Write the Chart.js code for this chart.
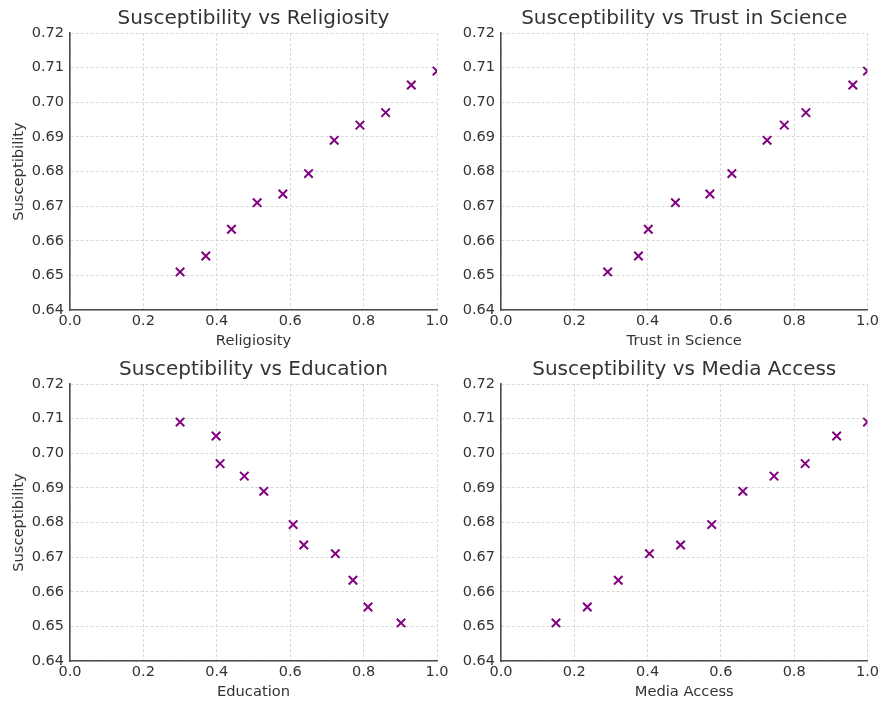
<!DOCTYPE html>
<html>
<head>
<meta charset="utf-8">
<script src="https://cdn.jsdelivr.net/npm/chart.js@4.4.0/dist/chart.umd.min.js"></script>
<style>
  html, body { margin: 0; padding: 0; background: #fff; }
  body { width: 882px; height: 702px; position: relative; overflow: hidden; }
  .box { position: absolute; }
</style>
</head>
<body>
<div class="box" style="left:0;top:0;width:462px;height:351px"><canvas id="c1"></canvas></div>
<div class="box" style="left:441px;top:0;width:441px;height:351px"><canvas id="c2"></canvas></div>
<div class="box" style="left:0;top:351px;width:462px;height:351px"><canvas id="c3"></canvas></div>
<div class="box" style="left:441px;top:351px;width:441px;height:351px"><canvas id="c4"></canvas></div>
<script>
// Valeurs
const susceptibility = [0.651, 0.6556, 0.6633, 0.671, 0.6735, 0.6794, 0.689, 0.6934, 0.697, 0.705, 0.709];
const religiosity = [0.30, 0.37, 0.44, 0.51, 0.58, 0.65, 0.72, 0.79, 0.86, 0.93, 1.0];
const trustInScience = [0.291, 0.375, 0.402, 0.476, 0.570, 0.630, 0.726, 0.773, 0.832, 0.960, 1.0];
const education = [0.902, 0.812, 0.771, 0.723, 0.637, 0.608, 0.528, 0.475, 0.409, 0.398, 0.300];
const mediaAccess = [0.150, 0.2355, 0.320, 0.405, 0.490, 0.575, 0.660, 0.745, 0.830, 0.916, 1.0];

const xTicks = [0, 0.2, 0.4, 0.6, 0.8, 1.0];
const yTicks = [0.64, 0.65, 0.66, 0.67, 0.68, 0.69, 0.70, 0.71, 0.72];

const FONT = "'DejaVu Sans', sans-serif";
const TEXT = "#333333";

function makeChart(id, xs, xLabel, showYLabel) {
  const points = xs.map((x, i) => ({ x, y: susceptibility[i] }));
  const yWidth = showYLabel ? 70 : 60;

  new Chart(document.getElementById(id), {
    type: "scatter",
    data: {
      datasets: [{
        data: points,
        pointStyle: "crossRot",
        pointRadius: 6,
        pointHoverRadius: 6,
        borderColor: "#800080",
        backgroundColor: "#800080",
        pointBorderWidth: 2,
        clip: 0,
      }],
    },
    options: {
      responsive: true,
      maintainAspectRatio: false,
      animation: false,
      events: [],
      layout: { padding: { top: 0, right: showYLabel ? 25 : 13, bottom: 0, left: 0 } },
      plugins: {
        legend: { display: false },
        tooltip: { enabled: false },
        title: {
          display: true,
          fullSize: false,
          text: "Susceptibility vs " + xLabel,
          color: TEXT,
          font: { family: FONT, size: 20, weight: "normal" },
          padding: { top: 7, bottom: 2 },
        },
      },
      scales: {
        x: {
          type: "linear",
          min: 0,
          max: 1,
          afterBuildTicks: (axis) => { axis.ticks = xTicks.map((v) => ({ value: v })); },
          afterFit: (axis) => { axis.height = 41; },
          ticks: {
            color: TEXT,
            font: { family: FONT, size: 14.5 },
            padding: 3,
            maxRotation: 0,
            callback: (v) => v.toFixed(1),
          },
          grid: { color: "#cfcfcf", lineWidth: 0.8, drawTicks: false },
          border: { display: true, color: "#4d4d4d", width: 1.6, dash: [3, 2] },
          title: {
            display: true,
            text: xLabel,
            color: TEXT,
            font: { family: FONT, size: 14.7 },
            padding: { top: 0, bottom: 1.5 },
          },
        },
        y: {
          type: "linear",
          min: 0.64,
          max: 0.72,
          afterBuildTicks: (axis) => { axis.ticks = yTicks.map((v) => ({ value: v })); },
          afterFit: (axis) => { axis.width = yWidth; },
          ticks: {
            color: TEXT,
            font: { family: FONT, size: 14.5 },
            padding: 6,
            callback: (v) => v.toFixed(2),
          },
          grid: { color: "#cfcfcf", lineWidth: 0.8, drawTicks: false },
          border: { display: true, color: "#4d4d4d", width: 1.6, dash: [3, 2] },
          title: {
            display: showYLabel,
            text: "Susceptibility",
            color: TEXT,
            font: { family: FONT, size: 14.7 },
            padding: { top: 10, bottom: 0 },
          },
        },
      },
    },
  });
}

makeChart("c1", religiosity, "Religiosity", true);
makeChart("c2", trustInScience, "Trust in Science", false);
makeChart("c3", education, "Education", true);
makeChart("c4", mediaAccess, "Media Access", false);
</script>
</body>
</html>
